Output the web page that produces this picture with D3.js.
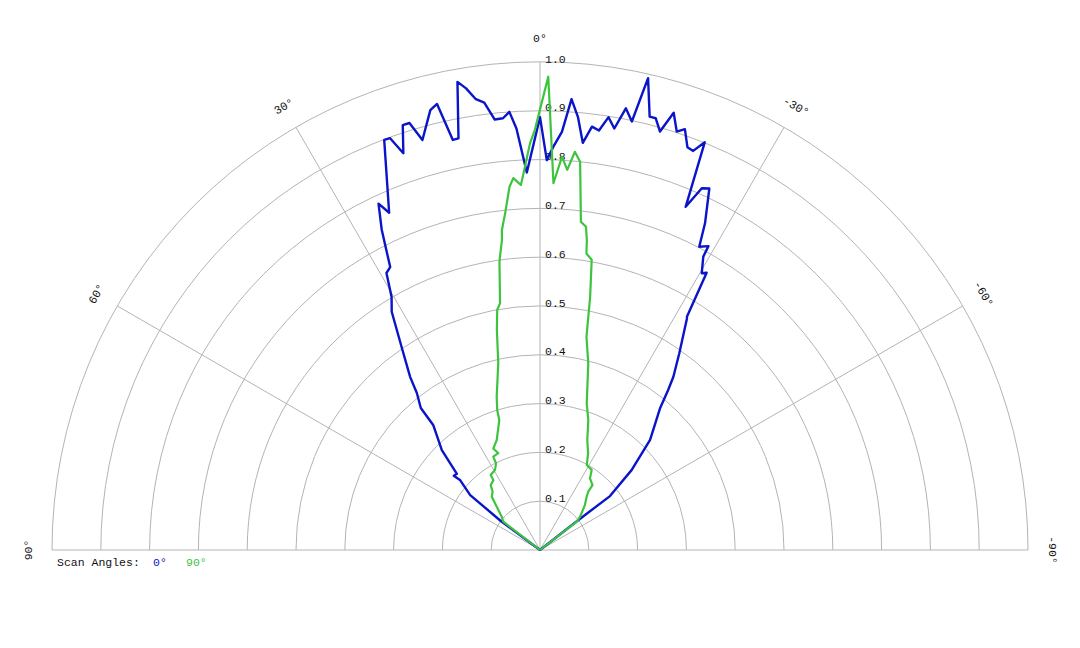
<!DOCTYPE html>
<html>
<head>
<meta charset="utf-8">
<script src="https://cdn.jsdelivr.net/npm/d3@7"></script>
<style>
  body { margin: 0; background: #fff; }
  svg { display: block; }
  text { font-family: "Liberation Mono", "DejaVu Sans Mono", monospace; font-size: 11.5px; }
</style>
</head>
<body>
<svg id="chart"></svg>
<script>
// ring values and angle ticks
const ringValues = [0.1, 0.2, 0.3, 0.4, 0.5, 0.6, 0.7, 0.8, 0.9, 1.0]
const angleTicks = [90, 60, 30, 0, -30, -60, -90]
const legendLabels = ['0°', '90°']

// scan angle 0° (angle in degrees, positive to the left; normalized value)
const blueAngles = [55, 53.5, 51.8, 48.8, 49.3, 47.5, 44.5, 40.5, 40.0, 38.1, 36.9, 34.3, 31.9, 30.4, 29.0, 27.9, 26.3, 25.0, 24.1,
  20.8, 20.0, 19.0, 17.9, 17.0, 16.0, 14.0, 13.0, 12.0, 11.2, 10.0, 9.1, 8.1, 7.1, 6.0, 4.9, 4.0, 3.2, 2.0, 0,
  -1.0, -1.9, -3.0, -4.0, -5.0, -6.0, -7.0, -8.0, -9.0, -10.0, -11.0, -12.1, -12.9, -14.2, -15.0, -16.0, -17.0, -18.1,
  -19.0, -20.1, -21.0, -22.0, -23.0, -24.1, -25.1, -26.8, -27.7, -29.0, -29.1, -30.3, -31.0, -32.2, -32.4, -35.3,
  -37.6, -38.7, -40.3, -45.0, -48.9, -52.4, -52.0, -55]
const blueValues = [0, 0.100, 0.182, 0.218, 0.233, 0.231, 0.287, 0.337, 0.380, 0.409, 0.443, 0.503, 0.575, 0.601, 0.649, 0.656, 0.732, 0.783, 0.757,
  0.899, 0.898, 0.860, 0.915, 0.915, 0.874, 0.929, 0.938, 0.859, 0.860, 0.974, 0.958, 0.933, 0.924, 0.887, 0.888, 0.900, 0.865, 0.774, 0.887,
  0.799, 0.827, 0.858, 0.926, 0.891, 0.839, 0.874, 0.868, 0.898, 0.877, 0.922, 0.898, 0.992, 0.916, 0.916, 0.892, 0.937, 0.902,
  0.912, 0.879, 0.876, 0.901, 0.764, 0.812, 0.818, 0.750, 0.702, 0.712, 0.688, 0.657, 0.663, 0.565, 0.562, 0.494,
  0.448, 0.420, 0.380, 0.319, 0.249, 0.181, 0.100, 0]

// scan angle 90°
const greenAngles = [55, 52.4, 49.0, 43.9, 42.2, 39.1, 37.2, 33.7, 33.3, 29.4, 26.9, 26.6, 23.3, 24.7, 21.5, 17.4, 17.0, 15.8, 12.6, 11.1,
  10.1, 9.2, 8.0, 7.0, 6.8, 5.9, 4.8, 4.1, 3.0, 2.5, 1.4, 0.7, -1.0, -2.1, -3.2, -4.1, -5.0, -5.9, -7.1, -8.1,
  -8.6, -8.9, -10.1, -11.2, -12.3, -14.5, -17.7, -20.4, -23.3, -26.5, -28.8, -32.9, -34.9, -39.0, -39.6, -41.2, -45.0,
  -50.2, -52.4, -55]
const greenValues = [0, 0.095, 0.104, 0.133, 0.147, 0.154, 0.167, 0.172, 0.184, 0.188, 0.199, 0.214, 0.216, 0.229, 0.242, 0.279, 0.300, 0.326, 0.392, 0.459,
  0.500, 0.512, 0.597, 0.640, 0.660, 0.694, 0.747, 0.764, 0.749, 0.773, 0.834, 0.861, 0.970, 0.752, 0.807, 0.781, 0.819, 0.800, 0.678, 0.669,
  0.642, 0.615, 0.604, 0.529, 0.447, 0.395, 0.315, 0.284, 0.245, 0.221, 0.199, 0.195, 0.179, 0.171, 0.155, 0.145, 0.130,
  0.107, 0.095, 0]

const width = 1080
const height = 648
const cx = 540
const cy = 550
const radius = 488

const svg = d3.select('#chart').attr('width', width).attr('height', height)
const g = svg.append('g').attr('transform', `translate(${cx},${cy})`)

const r = d3.scaleLinear().domain([0, 1]).range([0, radius])
// 0° points up, positive angles to the left
const a = d3.scaleLinear().domain([-90, 90]).range([Math.PI / 2, -Math.PI / 2])

// rings
g.selectAll('path.ring')
  .data(ringValues)
  .join('path')
  .attr('class', 'ring')
  .attr('d', d => {
    const p = d3.path()
    p.moveTo(-r(d), 0)
    p.arc(0, 0, r(d), Math.PI, 2 * Math.PI)
    return p.toString()
  })
  .attr('fill', 'none')
  .attr('stroke', '#b4b4b4')
  .attr('stroke-width', 1)

// spokes
g.selectAll('line.spoke')
  .data(angleTicks)
  .join('line')
  .attr('class', 'spoke')
  .attr('x1', 0).attr('y1', 0)
  .attr('x2', d => r(1) * Math.sin(a(d)))
  .attr('y2', d => -r(1) * Math.cos(a(d)))
  .attr('stroke', '#b4b4b4')
  .attr('stroke-width', 1)

// ring labels
g.selectAll('text.rlab')
  .data(ringValues)
  .join('text')
  .attr('class', 'rlab')
  .attr('x', 5)
  .attr('y', d => -r(d) - 3)
  .attr('dominant-baseline', 'central')
  .attr('fill', '#111')
  .text(d => d.toFixed(1))

// angle labels
g.selectAll('text.alab')
  .data(angleTicks)
  .join('text')
  .attr('class', 'alab')
  .attr('transform', d => {
    const x = 512 * Math.sin(a(d))
    const y = -512 * Math.cos(a(d))
    return `translate(${x},${y}) rotate(${-d})`
  })
  .attr('text-anchor', 'middle')
  .attr('dominant-baseline', 'central')
  .attr('fill', '#111')
  .text(d => `${d}°`)

// series
const line = d3.lineRadial()
  .angle(d => a(d[0]))
  .radius(d => r(d[1]))

const series = [
  { pts: d3.zip(blueAngles, blueValues), color: '#0a14c8', w: 2.4 },
  { pts: d3.zip(greenAngles, greenValues), color: '#3cc43c', w: 2.2 }
]

g.selectAll('path.series')
  .data(series)
  .join('path')
  .attr('class', 'series')
  .attr('d', d => line(d.pts))
  .attr('fill', 'none')
  .attr('stroke', d => d.color)
  .attr('stroke-width', d => d.w)
  .attr('stroke-linejoin', 'round')

// legend
svg.append('text').attr('x', 57).attr('y', 566).attr('fill', '#111').text('Scan Angles:')
svg.selectAll('text.leg')
  .data(legendLabels)
  .join('text')
  .attr('class', 'leg')
  .attr('x', (d, i) => [153, 186][i])
  .attr('y', 566)
  .attr('fill', (d, i) => series[i].color)
  .text(d => d)
</script>
</body>
</html>
